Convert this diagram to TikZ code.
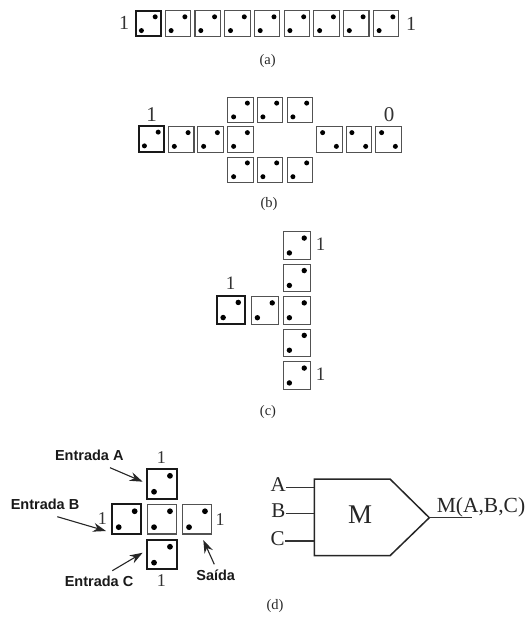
\documentclass[tikz,border=0pt]{standalone}
\usepackage{fontspec}
\setmainfont{Liberation Serif}
\newfontfamily\labelsans{Liberation Sans}
\usetikzlibrary{arrows.meta}
\newcommand{\fsz}[1]{\fontsize{#1}{#1}\selectfont}
\tikzset{
  thinbox/.style={draw=black!68,line width=1.1pt,rectangle,inner sep=0pt,fill=white},
  thickbox/.style={draw=black!90,line width=2pt,rectangle,inner sep=0pt,fill=white},
  num/.style={inner sep=0pt,text=black!80},
  capt/.style={inner sep=0pt,text=black!85,font=\fsz{14.5}},
  entry/.style={inner sep=0pt,font=\labelsans\bfseries\fsz{14.5},text=black!90},
  gate/.style={inner sep=0pt,text=black!85},
  wire/.style={line width=1.2pt,draw=black!80},
  pointer/.style={line width=1.1pt,draw=black!85,-{Stealth[length=13pt,width=9pt]}}
}
% #1 style, #2 name, #3 x, #4 y, #5 size
\newcommand{\cellup}[5]{%
  \node[#1,minimum size=#5pt] (#2) at (#3,#4) {};
  \fill[black] (#2.center) ++(0.27*#5,-0.27*#5) circle[radius=0.098*#5];
  \fill[black] (#2.center) ++(-0.27*#5,0.27*#5) circle[radius=0.098*#5];
}
\newcommand{\celldown}[5]{%
  \node[#1,minimum size=#5pt] (#2) at (#3,#4) {};
  \fill[black] (#2.center) ++(-0.27*#5,-0.27*#5) circle[radius=0.098*#5];
  \fill[black] (#2.center) ++(0.27*#5,0.27*#5) circle[radius=0.098*#5];
}
\begin{document}
\begin{tikzpicture}[x=1pt,y=-1pt]
\useasboundingbox (0,0) rectangle (529,618);
% (a)
\cellup{thickbox}{a0}{148.3}{23.7}{25.5}
\foreach \i/\x in {1/178,2/207.7,3/237.4,4/267.1,5/296.8,6/326.5,7/356.2,8/386}{
  \cellup{thinbox}{a\i}{\x}{23.7}{25.5}
}
\node[num,font=\fsz{20}] (al) at (124,22.7) {1};
\node[num,font=\fsz{20}] (ar) at (411,24) {1};
\node[capt] (ac) at (267.7,60.7) {(a)};
% (b)
\cellup{thickbox}{b0}{151.3}{139}{25.5}
\cellup{thinbox}{b1}{181.2}{139.5}{25.5}
\cellup{thinbox}{b2}{210.5}{139.5}{25.5}
\cellup{thinbox}{b3}{240.5}{139.5}{25.5}
\cellup{thinbox}{bt1}{240.5}{110}{25.5}
\cellup{thinbox}{bt2}{269.8}{110}{25.5}
\cellup{thinbox}{bt3}{299.8}{110}{25.5}
\cellup{thinbox}{bb1}{240.5}{169.8}{25.5}
\cellup{thinbox}{bb2}{269.8}{169.8}{25.5}
\cellup{thinbox}{bb3}{299.8}{169.8}{25.5}
\celldown{thinbox}{br1}{329.5}{139.5}{25.5}
\celldown{thinbox}{br2}{358.8}{139.5}{25.5}
\celldown{thinbox}{br3}{388.5}{139.5}{25.5}
\node[num,font=\fsz{21}] (bl) at (151.7,115) {1};
\node[num,font=\fsz{21}] (bz) at (389,115) {0};
\node[capt] (bc) at (269,204) {(b)};
% (c)
\cellup{thickbox}{c0}{230.7}{310}{28}
\cellup{thinbox}{c1}{264.8}{310.3}{27.5}
\cellup{thinbox}{ct2}{296.8}{245.5}{27.5}
\cellup{thinbox}{ct1}{296.8}{278}{27.5}
\cellup{thinbox}{cm}{296.8}{310.3}{27.5}
\cellup{thinbox}{cb1}{296.8}{342.8}{27.5}
\cellup{thinbox}{cb2}{296.8}{375.5}{27.5}
\node[num,font=\fsz{19}] (cl) at (230.7,283.3) {1};
\node[num,font=\fsz{19}] (cu) at (320.7,244.3) {1};
\node[num,font=\fsz{19}] (cd) at (320.7,374.3) {1};
\node[capt] (cc) at (268,412) {(c)};
% (d)
\cellup{thickbox}{da}{162}{483.8}{29.5}
\cellup{thickbox}{db}{126.7}{519.2}{29.5}
\cellup{thinbox}{dm}{162}{519.2}{29.5}
\cellup{thinbox}{ds}{197}{519.2}{29.5}
\cellup{thickbox}{dc}{162}{554.7}{29.5}
\node[num,font=\fsz{18}] (d1) at (161.3,457.3) {1};
\node[num,font=\fsz{18}] (d2) at (102.3,518.3) {1};
\node[num,font=\fsz{18}] (d3) at (220,519.3) {1};
\node[num,font=\fsz{18}] (d4) at (161.3,580.7) {1};
\node[entry] (ea) at (89.3,455) {Entrada A};
\node[entry] (eb) at (45,504) {Entrada B};
\node[entry] (ec) at (99,581) {Entrada C};
\node[entry] (es) at (215.7,575.7) {Saída};
\coordinate (pa1) at (110,467.7);
\coordinate (pa2) at (142.7,481.7);
\coordinate (pb1) at (57.3,516.7);
\coordinate (pb2) at (106,531);
\coordinate (pc1) at (112.3,570.7);
\coordinate (pc2) at (142.7,552.7);
\coordinate (ps1) at (214.3,564.3);
\coordinate (ps2) at (203.3,540);
\draw[pointer] (pa1) -- (pa2);
\draw[pointer] (pb1) -- (pb2);
\draw[pointer] (pc1) -- (pc2);
\draw[pointer] (ps1) -- (ps2);
\node[capt] (dcap) at (275,606) {(d)};
% gate
\coordinate (g1) at (314.3,479);
\coordinate (g2) at (390,479);
\coordinate (g3) at (429.3,517.7);
\coordinate (g4) at (390,555.7);
\coordinate (g5) at (314.3,555.7);
\draw[line width=1.5pt,draw=black!85,line join=miter] (g1) -- (g2) -- (g3) -- (g4) -- (g5) -- cycle;
\node[gate,font=\fsz{27}] (gm) at (360,515) {M};
\node[gate,font=\fsz{21}] (ga) at (278.3,484.3) {A};
\node[gate,font=\fsz{21}] (gb) at (278.3,510.7) {B};
\node[gate,font=\fsz{21}] (gc) at (277.7,539) {C};
\node[gate,font=\fsz{21.5}] (gout) at (481,507) {M(A,B,C)};
\coordinate (wa) at (314.3,487.3);
\coordinate (wb) at (314.3,513.3);
\coordinate (wc) at (314.3,541);
\coordinate (wo) at (471.7,517.7);
\draw[wire] (ga.east |- wa) -- (wa);
\draw[wire] (gb.east |- wb) -- (wb);
\draw[wire] (gc.east |- wc) -- (wc);
\draw[wire] (g3) -- (wo);
\end{tikzpicture}
\end{document}
